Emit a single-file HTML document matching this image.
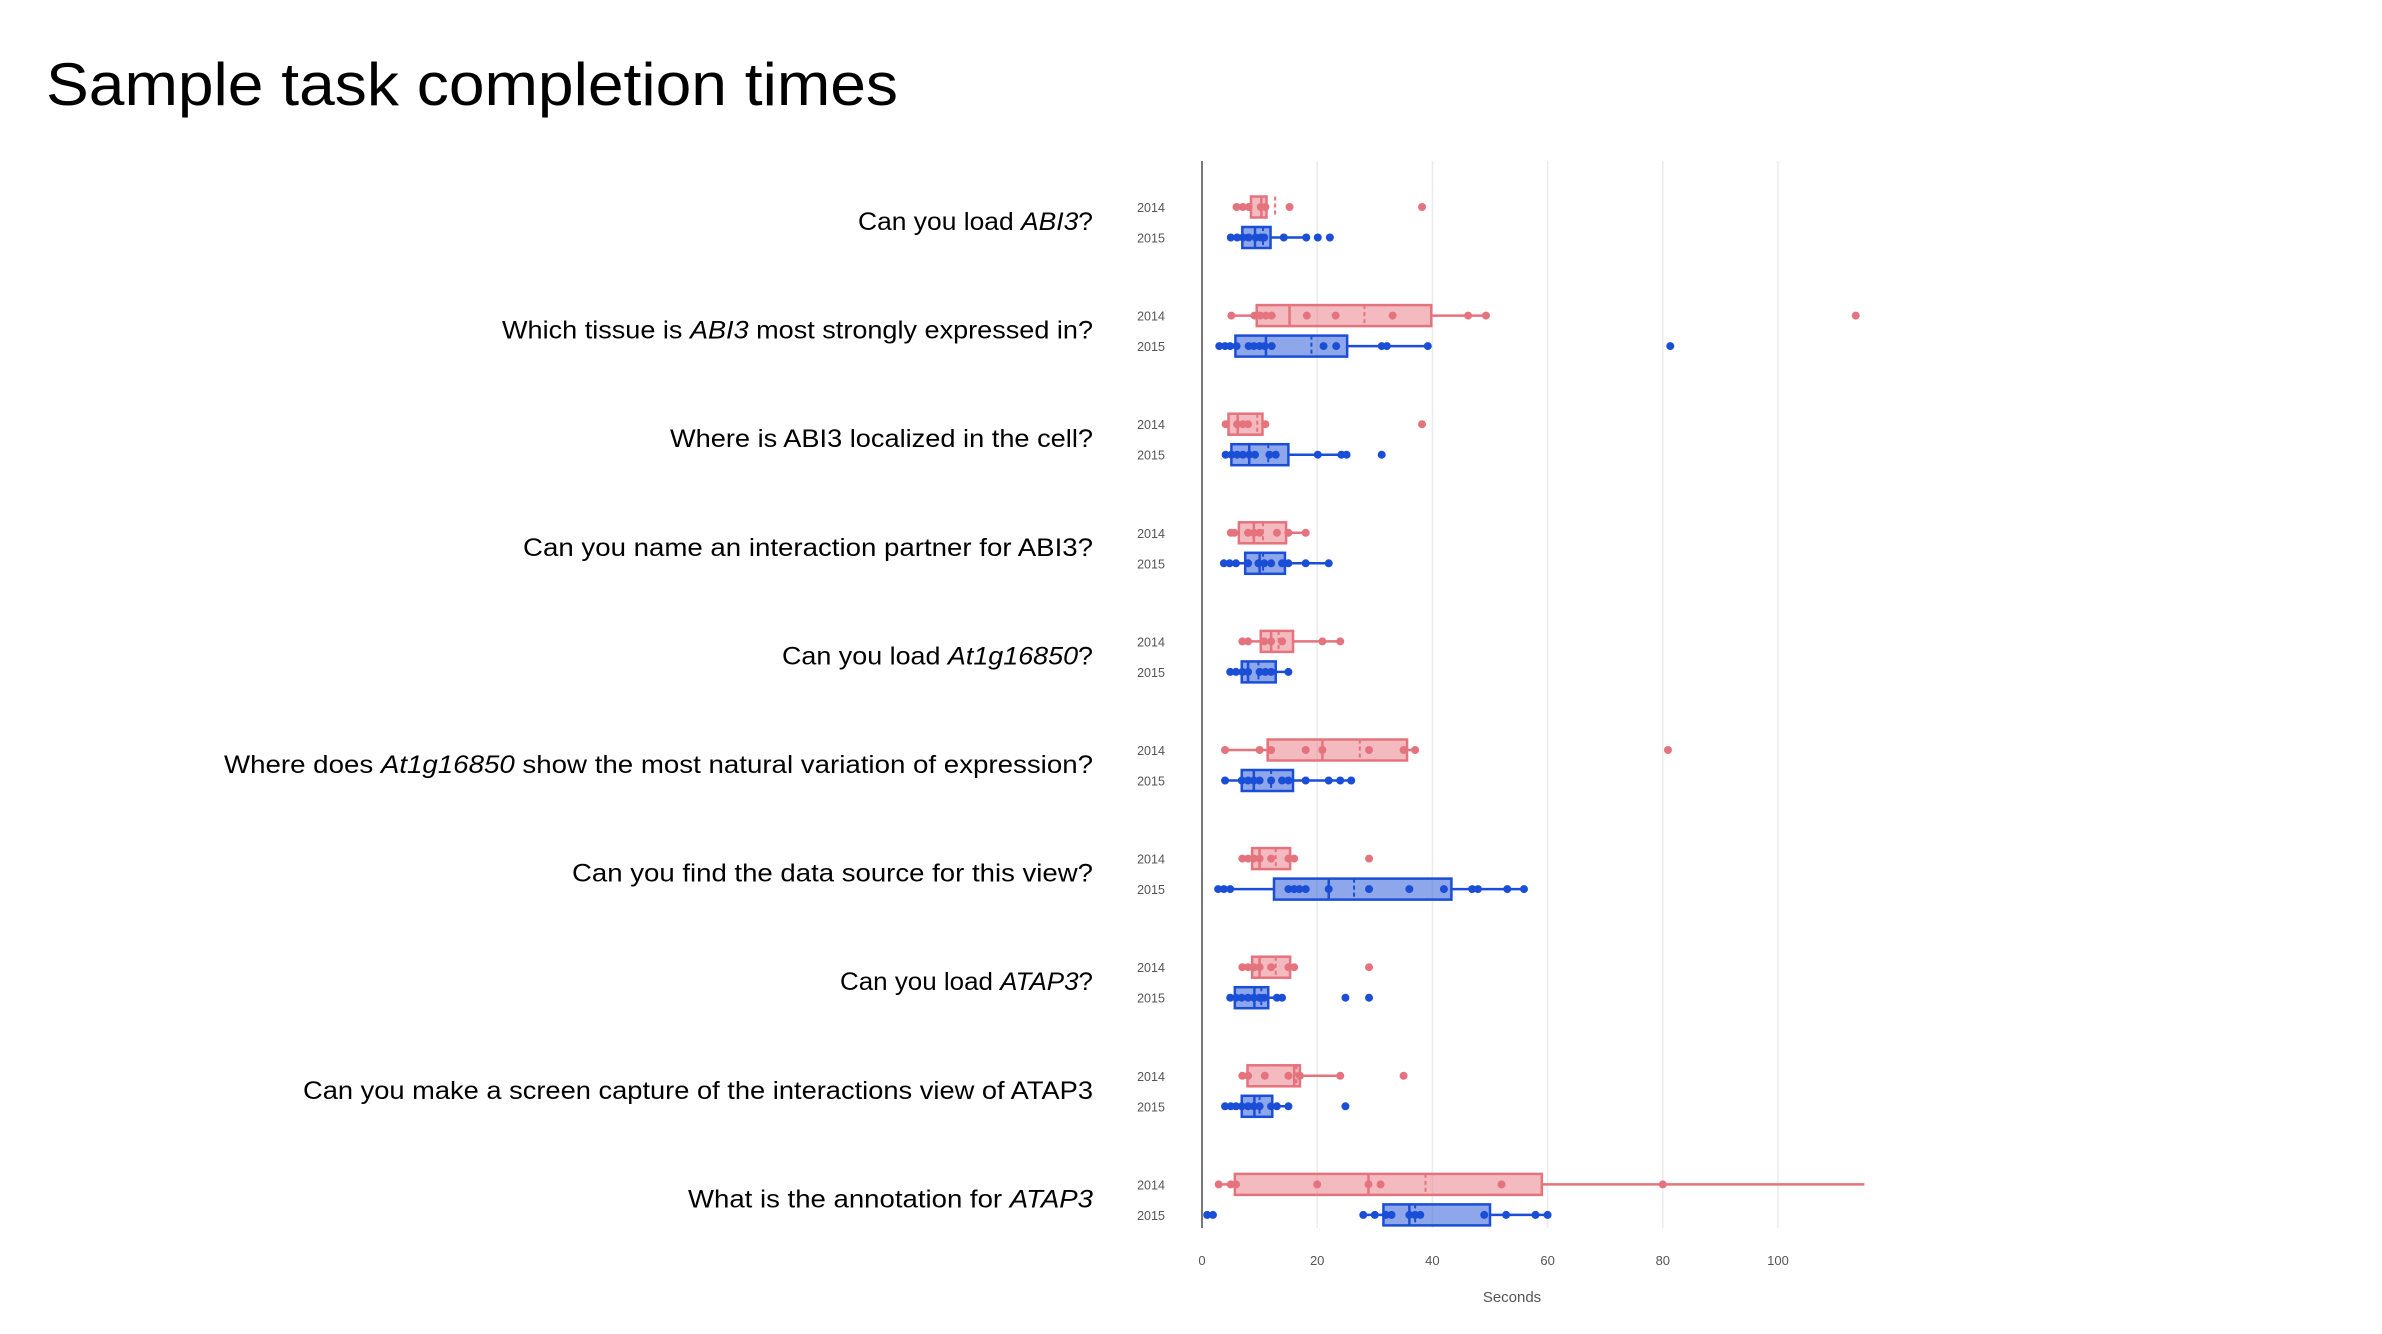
<!DOCTYPE html>
<html><head><meta charset="utf-8"><style>
html,body{margin:0;padding:0;background:#fff;}
svg{display:block;}
</style></head><body>
<svg id="chart" width="2382" height="1334" xmlns="http://www.w3.org/2000/svg" font-family="Liberation Sans, sans-serif">
<text x="46" y="105" font-size="60" textLength="852" lengthAdjust="spacingAndGlyphs" fill="#000">Sample task completion times</text>
<g id="grid"></g><g id="labels"></g><g id="marks"></g>
<line x1="1202" y1="161" x2="1202" y2="1228" stroke="#777" stroke-width="2"/>
<text x="1512" y="1302" font-size="15" fill="#555" text-anchor="middle">Seconds</text>
</svg>
<script>
const questions = [
 ["Can you load ","ABI3","?"],
 ["Which tissue is ","ABI3"," most strongly expressed in?"],
 ["Where is ABI3 localized in the cell?","",""],
 ["Can you name an interaction partner for ABI3?","",""],
 ["Can you load ","At1g16850","?"],
 ["Where does ","At1g16850"," show the most natural variation of expression?"],
 ["Can you find the data source for this view?","",""],
 ["Can you load ","ATAP3","?"],
 ["Can you make a screen capture of the interactions view of ATAP3","",""],
 ["What is the annotation for ","ATAP3",""]
];
const labelWidths = [235,591,423,570,311,869,521,253,790,405];
const years = ["2014","2015"];
const xTicks = [0,20,40,60,80,100];
// each stat: [lowerWhisker, q1, median, q3, upperWhisker, mean]
const stats2014 = [
 [6,8.5,10.3,11.2,11.2,12.7],[5.1,9.5,15.2,39.8,49.3,28.2],[4.1,4.6,6.2,10.5,11,9.6],[5,6.4,9,14.6,18,10.6],[7,10.2,12,15.8,24,13.3],
 [4,11.4,20.9,35.6,37,27.4],[7,8.7,10,15.3,16,12.8],[7,8.7,10,15.3,16,12.8],[7,7.9,16,17,24,16.4],[2.9,5.7,28.9,59,115,38.8]
];
const stats2015 = [
 [5,7,9.2,11.9,18.1,10.6],[3,5.8,11.1,25.2,39.2,19],[4.1,5.1,8.2,15,25.1,11.5],[3.8,7.5,10,14.4,22,10.6],[4.9,6.9,8,12.8,15,9.8],
 [4,6.9,9,15.8,25.9,12],[2.8,12.5,22,43.3,55.9,26.4],[4.9,5.7,9.1,11.5,13.9,10.3],[4,6.9,9.1,12.2,15,10],[28,31.5,36,50,60,37]
];
const points2014 = [
 [6,7.1,8.1,10.2,11,15.2,38.2],[5.1,9.1,10.1,11.1,12.1,18.2,23.2,33.1,46.2,49.3,113.5],[4.1,6.1,7.1,8,11,38.2],
 [5,5.6,8,9,10,13,15,18],[7,8,10.8,12,13.9,20.9,24],[4,10,12,18,20.9,29,35,37,80.9],[7,8,9,10,12,15,16,29],
 [7,8,9,10,12,15,16,29],[7,8,10.9,15,17,24,35],[2.9,5,5.9,20,28.9,31,52,80]
];
const points2015 = [
 [5,6.1,7.1,8.1,9.3,10.2,10.8,14.2,18.1,20.1,22.2],[3,4,4.9,6,8.1,9,10,10.9,12.1,21.1,23.3,31.2,32.1,39.2,81.3],
 [4.1,5.1,6.1,7.1,8.2,9.2,11.7,12.8,20.1,24.2,25.1,31.2],[3.8,4.8,5.9,8,9.8,10.8,12,13.9,15,18,22],
 [4.9,5.9,7,8,10,11,12,15],[4,6.9,8,9,10,12,13.9,15,18,22,24,25.9],[2.8,3.8,4.9,15,16,16.9,18,22,29,36,42,46.9,47.9,53,55.9],
 [4.9,5.9,6.9,8,9,10,10.8,13,13.9,24.9,29],[4,5,5.9,6.9,8,9,10,12,13,15,24.9],[0.9,1.9,28,30,31.9,32.9,36,37,37.9,49,52.8,57.9,60]
];
const NS="http://www.w3.org/2000/svg";
const X0=1202, PX=5.76, XMAX=115;
function xs(v){return X0+Math.min(v,XMAX)*PX;}
function ys(i,yr){return 207+i*108.6+yr*30.5;}
function mk(tag,attrs,parent){const e=document.createElementNS(NS,tag);for(const k in attrs)e.setAttribute(k,attrs[k]);parent.appendChild(e);return e;}
const grid=document.getElementById('grid'),labels=document.getElementById('labels'),marks=document.getElementById('marks');
xTicks.forEach(t=>{
 if(t>0){const g=mk('line',{x1:xs(t),x2:xs(t),y1:161,y2:1228,stroke:'#ececec','stroke-width':1.5},grid);
 
 }
 const tl=mk('text',{x:xs(t),y:1265,'font-size':13,fill:'#555','text-anchor':'middle'},grid);
 
 
 tl.textContent=t;
});
questions.forEach((q,i)=>{
 const t=mk('text',{x:1093,y:ys(i,0)+15+8,'font-size':25,fill:'#000','text-anchor':'end',textLength:labelWidths[i],lengthAdjust:'spacingAndGlyphs'},labels);
 
 
 const a=document.createElementNS(NS,'tspan');a.textContent=q[0];t.appendChild(a);
 if(q[1]){const b=document.createElementNS(NS,'tspan');b.setAttribute('font-style','italic');b.textContent=q[1];t.appendChild(b);}
 if(q[2]){const c=document.createElementNS(NS,'tspan');c.textContent=q[2];t.appendChild(c);}
 years.forEach((yr,k)=>{
  const yl=mk('text',{x:1151,y:ys(i,k)+5,'font-size':12.5,fill:'#555','text-anchor':'middle'},labels);
  
  
  yl.textContent=yr;
 });
});
const styles=[{s:'#e5737d',f:'rgba(232,120,130,0.5)'},{s:'#1a4ed6',f:'rgba(30,80,214,0.5)'}];
[stats2014,stats2015].forEach((st,k)=>{
 const pts=k?points2015:points2014;
 st.forEach((d,i)=>{
  const y=ys(i,k),c=styles[k],h=10.5;
  const g=mk('g',{},marks);
  
  
  mk('line',{x1:xs(d[0]),x2:xs(d[1]),y1:y,y2:y,stroke:c.s,'stroke-width':2.5},g);
  mk('line',{x1:xs(d[3]),x2:xs(d[4]),y1:y,y2:y,stroke:c.s,'stroke-width':2.5},g);
  mk('rect',{x:xs(d[1]),y:y-h,width:xs(d[3])-xs(d[1]),height:2*h,fill:c.f,stroke:c.s,'stroke-width':2.5},g);
  mk('line',{x1:xs(d[2]),x2:xs(d[2]),y1:y-h,y2:y+h,stroke:c.s,'stroke-width':2.5},g);
  mk('line',{x1:xs(d[5]),x2:xs(d[5]),y1:y-h,y2:y+h,stroke:c.s,'stroke-width':2,'stroke-dasharray':'4,3'},g);
  pts[i].forEach(v=>{
   if(v>XMAX)return;
   const p=mk('circle',{cx:xs(v),cy:y,r:4,fill:c.s},g);
   
   
  });
 });
});
</script>
</body></html>
